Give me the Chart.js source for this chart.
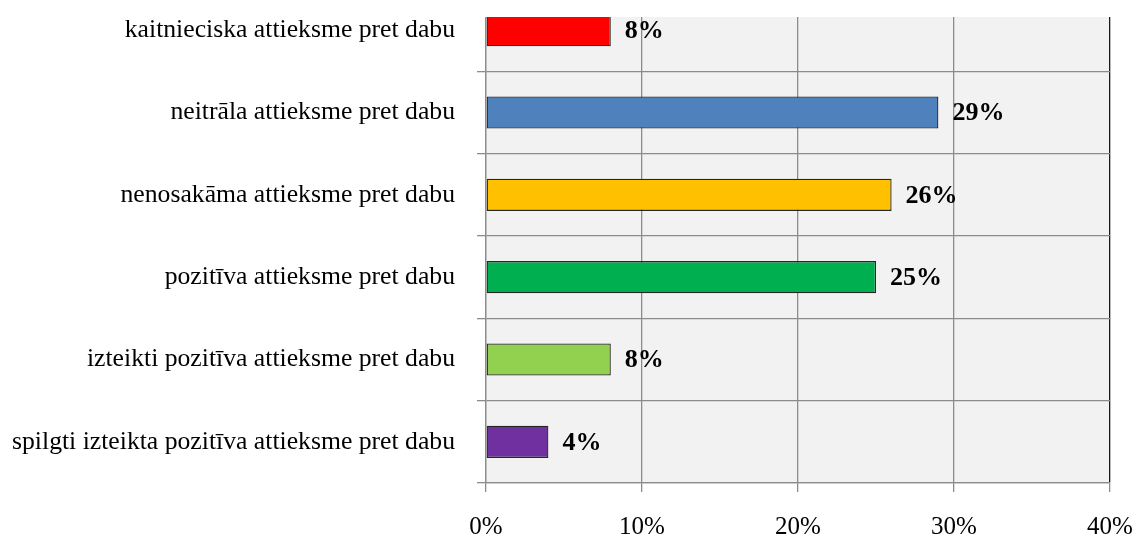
<!DOCTYPE html>
<html>
<head>
<meta charset="utf-8">
<script src="https://cdn.jsdelivr.net/npm/chart.js@4.4.0/dist/chart.umd.min.js"></script>
<style>
  html, body { margin: 0; padding: 0; background: #fff; overflow: hidden; }
  #clip { position: absolute; left: 0; top: 17px; width: 1136px; height: 521px; overflow: hidden; }
  #wrap { position: absolute; left: 0; top: -28px; width: 1136px; height: 549px; }
</style>
</head>
<body>
<div id="clip"><div id="wrap"><canvas id="attitudeChart"></canvas></div></div>
<script>
const categories = [
    'kaitnieciska attieksme pret dabu',
    'neitrāla attieksme pret dabu',
    'nenosakāma attieksme pret dabu',
    'pozitīva attieksme pret dabu',
    'izteikti pozitīva attieksme pret dabu',
    'spilgti izteikta pozitīva attieksme pret dabu'
];
const shares = [8, 29, 26, 25, 8, 4];
const barColors = ['#FF0000', '#4F81BD', '#FFC000', '#00B050', '#92D050', '#7030A0'];
const xTicks = [0, 10, 20, 30, 40];

const serif = "'Liberation Serif', 'Times New Roman', serif";

// grey plot background
const plotBackground = {
    id: 'plotBackground',
    beforeDraw(chart) {
        const { ctx, chartArea } = chart;
        ctx.save();
        ctx.fillStyle = '#f2f2f2';
        ctx.fillRect(chartArea.left, chartArea.top, chartArea.right - chartArea.left, chartArea.bottom - chartArea.top);
        ctx.restore();
    }
};

// percent labels to the right of each bar
const valueLabels = {
    id: 'valueLabels',
    afterDatasetsDraw(chart) {
        const ctx = chart.ctx;
        const meta = chart.getDatasetMeta(0);
        ctx.save();
        ctx.font = 'bold 26px ' + serif;
        ctx.fillStyle = '#000';
        ctx.textAlign = 'left';
        ctx.textBaseline = 'middle';
        meta.data.forEach((bar, i) => {
            ctx.fillText(shares[i] + '%', bar.x + 14, bar.y + 1);
        });
        ctx.restore();
    }
};

const ctx = document.getElementById('attitudeChart').getContext('2d');
new Chart(ctx, {
    type: 'bar',
    data: {
        labels: categories,
        datasets: [{
            data: shares,
            backgroundColor: barColors,
            borderColor: '#262626',
            borderWidth: 1.3,
            borderSkipped: false,
            categoryPercentage: 0.39,
            barPercentage: 1
        }]
    },
    options: {
        indexAxis: 'y',
        responsive: true,
        maintainAspectRatio: false,
        animation: false,
        layout: { padding: { top: 0, right: 26, left: 0, bottom: 0 } },
        plugins: {
            legend: { display: false },
            tooltip: { enabled: false }
        },
        scales: {
            x: {
                min: 0,
                max: 40,
                afterBuildTicks: (scale) => {
                    scale.ticks = xTicks.map(v => ({ value: v }));
                },
                afterFit: (scale) => {
                    scale.height = 55;
                    scale.paddingRight = 0;
                    scale.paddingLeft = 0;
                },
                grid: {
                    color: (c) => c.index === xTicks.length - 1 ? '#1a1a1a' : '#8c8c8c',
                    tickColor: '#8c8c8c',
                    tickLength: 9,
                    lineWidth: 1.3
                },
                border: { color: '#8c8c8c', width: 1.3 },
                ticks: {
                    padding: 20,
                    color: '#000',
                    font: { family: serif, size: 25 },
                    callback: (v) => v + '%'
                }
            },
            y: {
                afterFit: (scale) => {
                    scale.width = 486;
                    scale.paddingTop = 0;
                    scale.paddingBottom = 0;
                },
                grid: {
                    offset: true,
                    color: '#8c8c8c',
                    tickColor: '#8c8c8c',
                    tickLength: 9,
                    lineWidth: 1.3
                },
                border: { color: '#8c8c8c', width: 1.3 },
                ticks: {
                    padding: 22,
                    color: '#000',
                    font: { family: serif, size: 25.7 }
                }
            }
        }
    },
    plugins: [plotBackground, valueLabels]
});
</script>
</body>
</html>
